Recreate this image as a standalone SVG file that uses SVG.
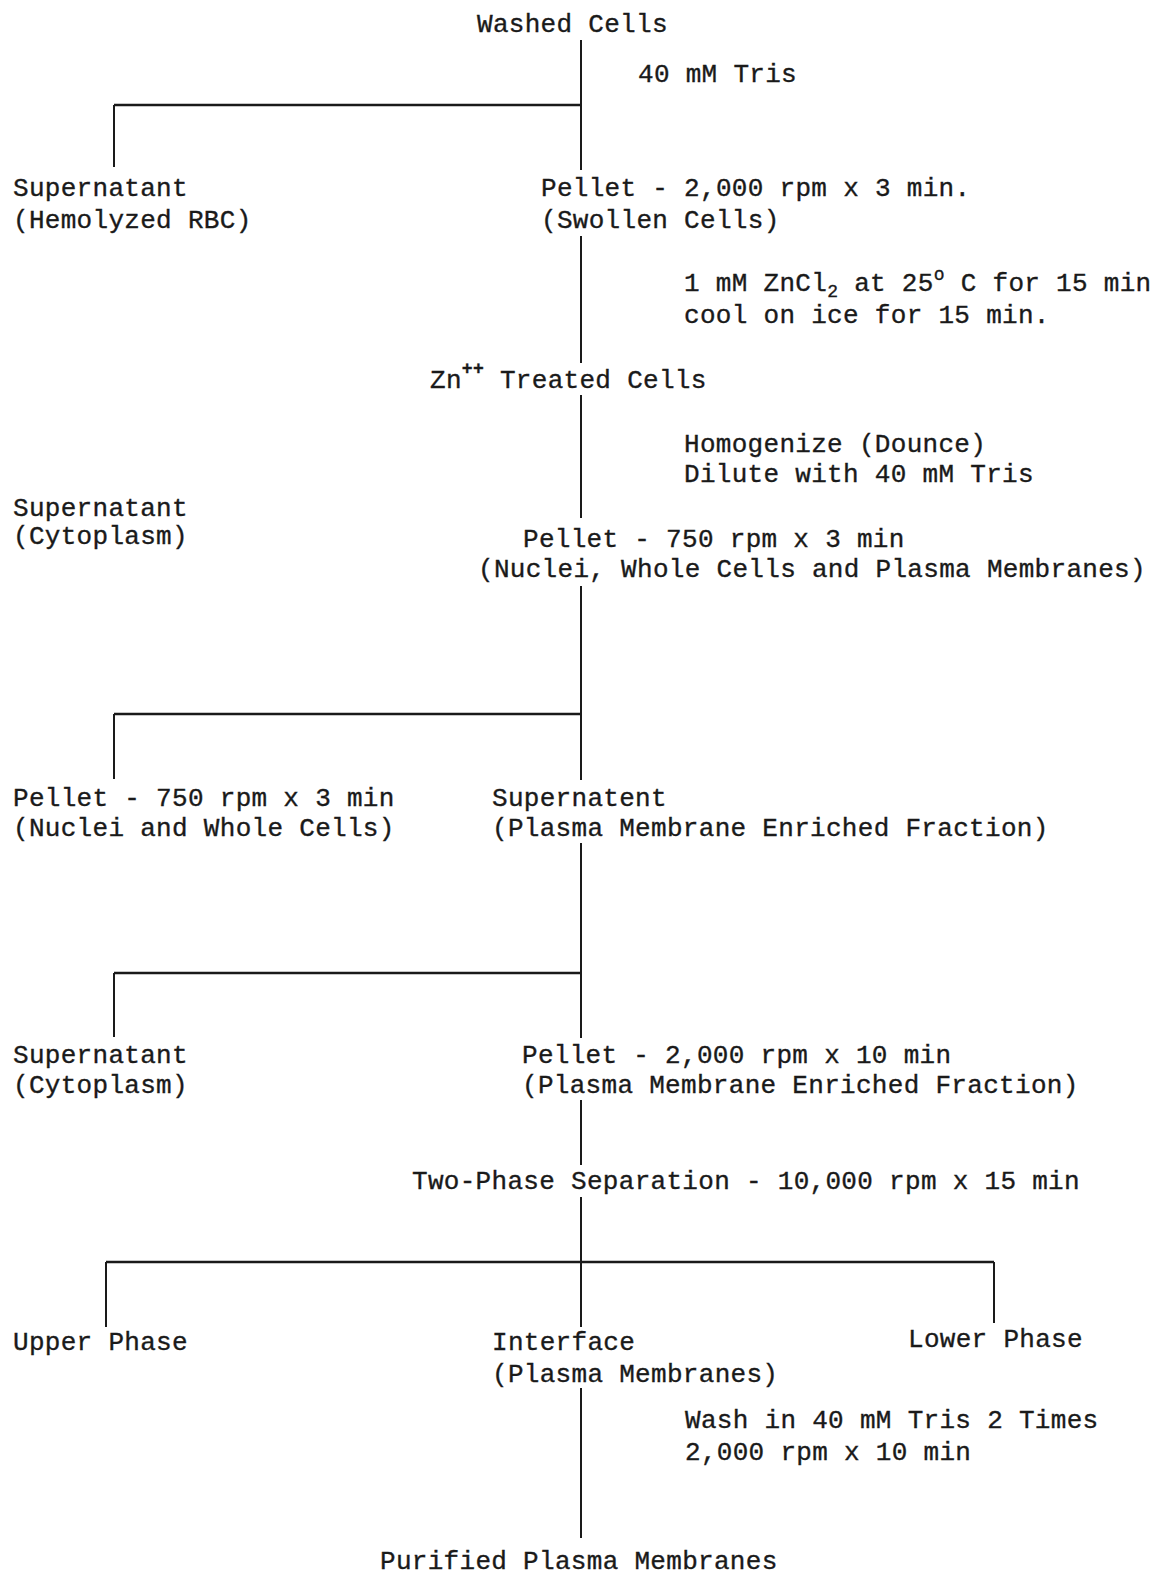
<svg xmlns="http://www.w3.org/2000/svg" width="1169" height="1576" viewBox="0 0 1169 1576">
<style>
text{font-family:"Liberation Mono","Courier New",monospace;font-size:26px;letter-spacing:0.3px;fill:#1a1a1a;stroke:#1a1a1a;stroke-width:0.35px}
.sm{font-size:18px}
.ln{stroke:#1a1a1a;stroke-width:2;fill:none}
.hz{stroke:#1a1a1a;stroke-width:2.6;fill:none}
</style>
<rect width="1169" height="1576" fill="#fff"/>
<g id="connectors">
<path class="ln" d="M581 40V170M581 236V363M581 395V518M581 586V780M114 105V167M114 714V779M581 843V1038M114 973V1037M581 1100V1165M581 1197V1327M106 1262V1327M994 1262V1323M581 1388V1538"/>
<path class="hz" d="M114 105H581M114 714H581M114 973H581M106 1262H994"/>
</g>
<g id="washed-cells"><text x="477" y="32">Washed Cells</text></g>
<g id="step-tris"><text x="638" y="82">40 mM Tris</text></g>
<g id="supernatant-rbc"><text x="13" y="196">Supernatant</text><text x="13" y="228">(Hemolyzed RBC)</text></g>
<g id="pellet-swollen"><text x="541" y="196">Pellet - 2,000 rpm x 3 min.</text><text x="541" y="228">(Swollen Cells)</text></g>
<g id="step-zncl2"><text x="684" y="291">1 mM ZnCl<tspan class="sm" dy="6">2</tspan><tspan dy="-6"> at 25</tspan><tspan class="sm" dy="-11">o</tspan><tspan dy="11"> C for 15 min</tspan></text><text x="684" y="323">cool on ice for 15 min.</text></g>
<g id="zn-treated"><text x="430" y="388">Zn<tspan class="sm" dy="-14" font-weight="bold">++</tspan><tspan dy="14"> Treated Cells</tspan></text></g>
<g id="step-homogenize"><text x="684" y="452">Homogenize (Dounce)</text><text x="684" y="482">Dilute with 40 mM Tris</text></g>
<g id="supernatant-cyto-1"><text x="13" y="516">Supernatant</text><text x="13" y="544">(Cytoplasm)</text></g>
<g id="pellet-750-a"><text x="523" y="547">Pellet - 750 rpm x 3 min</text><text x="478" y="577">(Nuclei, Whole Cells and Plasma Membranes)</text></g>
<g id="pellet-750-b"><text x="13" y="806">Pellet - 750 rpm x 3 min</text><text x="13" y="836">(Nuclei and Whole Cells)</text></g>
<g id="supernatent-pmef"><text x="492" y="806">Supernatent</text><text x="492" y="836">(Plasma Membrane Enriched Fraction)</text></g>
<g id="supernatant-cyto-2"><text x="13" y="1063">Supernatant</text><text x="13" y="1093">(Cytoplasm)</text></g>
<g id="pellet-2000-10"><text x="522" y="1063">Pellet - 2,000 rpm x 10 min</text><text x="522" y="1093">(Plasma Membrane Enriched Fraction)</text></g>
<g id="two-phase"><text x="412" y="1189">Two-Phase Separation - 10,000 rpm x 15 min</text></g>
<g id="upper-phase"><text x="13" y="1350">Upper Phase</text></g>
<g id="interface"><text x="492" y="1350">Interface</text><text x="492" y="1382">(Plasma Membranes)</text></g>
<g id="lower-phase"><text x="908" y="1347">Lower Phase</text></g>
<g id="step-wash"><text x="685" y="1428">Wash in 40 mM Tris 2 Times</text><text x="685" y="1460">2,000 rpm x 10 min</text></g>
<g id="purified"><text x="380" y="1569">Purified Plasma Membranes</text></g>
</svg>
